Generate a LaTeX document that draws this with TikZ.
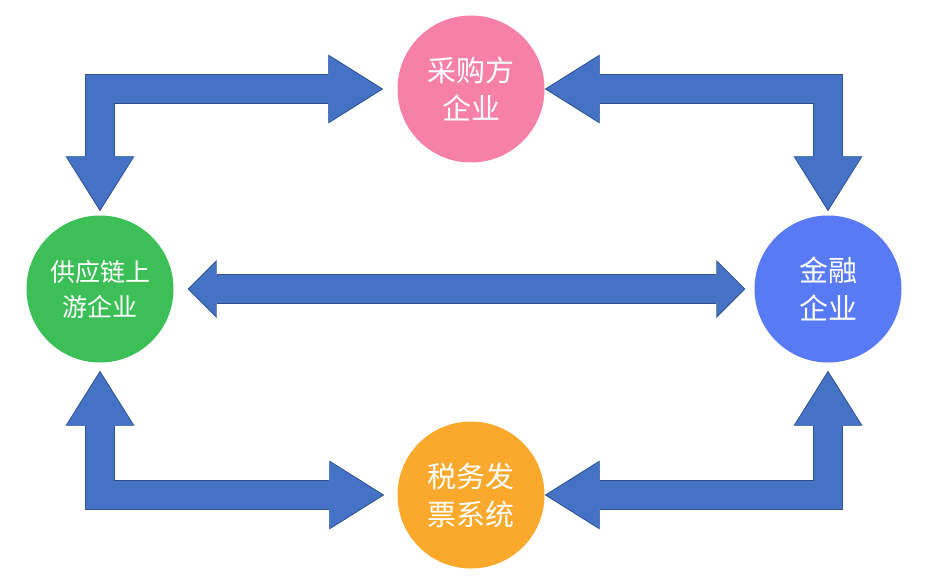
\documentclass[tikz,border=0pt]{standalone}
\usepackage{fontspec}
\newfontfamily\cjkfont{Noto Sans CJK SC}
\usepackage{tikz}
\usetikzlibrary{arrows.meta}
\definecolor{flowblue}{HTML}{4472C4}
\definecolor{flowedge}{HTML}{2F528F}
\definecolor{buyerpink}{HTML}{F780A6}
\definecolor{supgreen}{HTML}{3DBF58}
\definecolor{bankblue}{HTML}{587AF5}
\definecolor{taxorange}{HTML}{FBA92C}

\begin{document}
\begin{tikzpicture}[x=1pt, y=-1pt,
  firm/.style={circle, minimum size=147pt, inner sep=0pt, text=white,
    font=\cjkfont\fontsize{29}{38}\selectfont, align=center},
  bigarrow/.style={line width=28pt, draw=flowblue, shorten >=2pt, shorten <=2pt,
    arrows={Triangle[length=53pt 0 0, width=66.5pt 0 0, line width=1.5pt 0 0]-Triangle[length=53pt 0 0, width=66.5pt 0 0, line width=1.5pt 0 0]},
    preaction={draw=flowedge, line width=30pt, shorten >=0pt, shorten <=0pt,
      arrows={Triangle[length=55pt 0 0, width=69pt 0 0, line width=0pt 0 0]-Triangle[length=55pt 0 0, width=69pt 0 0, line width=0pt 0 0]}}},
  smallarrow/.style={line width=28pt, draw=flowblue, shorten >=1.5pt, shorten <=1.5pt,
    arrows={Triangle[length=27pt 0 0, width=54pt 0 0, line width=1.5pt 0 0]-Triangle[length=27pt 0 0, width=54pt 0 0, line width=1.5pt 0 0]},
    preaction={draw=flowedge, line width=30pt, shorten >=0pt, shorten <=0pt,
      arrows={Triangle[length=29pt 0 0, width=58pt 0 0, line width=0pt 0 0]-Triangle[length=29pt 0 0, width=58pt 0 0, line width=0pt 0 0]}}}]
  \useasboundingbox (0,0) rectangle (934,585);

  % the four parties
  \node[firm, fill=buyerpink] (buyer) at (471,89) {采购方\\企业};
  \node[firm, fill=supgreen, font=\cjkfont\fontsize{25}{35}\selectfont] (supplier) at (100,289) {供应链上\\游企业};
  \node[firm, fill=bankblue] (bank) at (828,289) {金融\\企业};
  \node[firm, fill=taxorange] (tax) at (471,495) {税务发\\票系统};

  % block arrows
  \draw[bigarrow] ([xshift=-14pt]buyer.west) -- (supplier.north |- buyer.west) -- ([yshift=4pt]supplier.north);
  \draw[bigarrow] (buyer.east) -- (bank.north |- buyer.east) -- ([yshift=4pt]bank.north);
  \draw[smallarrow] ([xshift=14pt]supplier.east) -- ([xshift=-9pt]bank.west);
  \draw[bigarrow] ([yshift=-8pt]supplier.south) -- (supplier.south |- tax.west) -- ([xshift=-13pt]tax.west);
  \draw[bigarrow] (tax.east) -- (bank.south |- tax.east) -- ([yshift=-8pt]bank.south);
\end{tikzpicture}
\end{document}
